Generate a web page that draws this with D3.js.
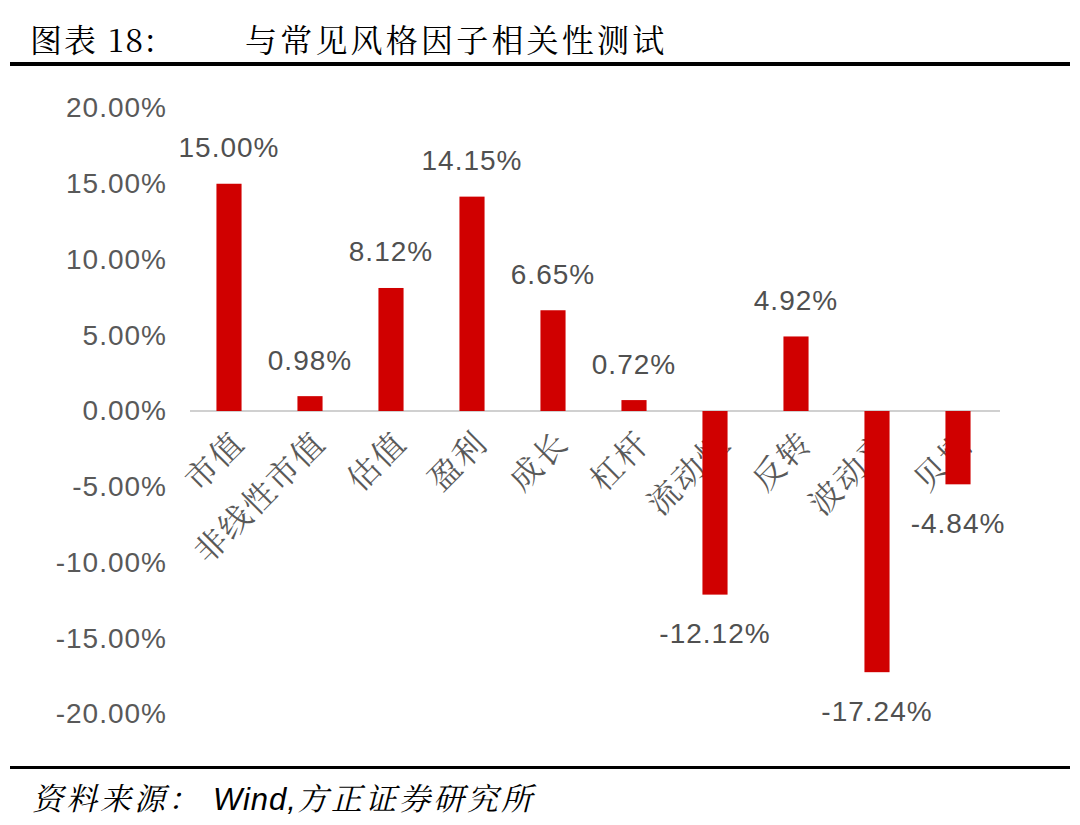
<!DOCTYPE html>
<html><head><meta charset="utf-8">
<script src="https://cdn.jsdelivr.net/npm/d3@7"></script>
<style>body{margin:0;background:#fff;}svg{display:block;}</style>
</head><body>
<svg id="c" width="1080" height="825"></svg>
<script>
const categories = ["市值","非线性市值","估值","盈利","成长","杠杆","流动性","反转","波动率","贝塔"];
const values = [15.00, 0.98, 8.12, 14.15, 6.65, 0.72, -12.12, 4.92, -17.24, -4.84];
const yTicks = [20, 15, 10, 5, 0, -5, -10, -15, -20];

const svg = d3.select("#c");
const serif = "'Noto Serif CJK SC','Songti SC',SimSun,'Noto Sans CJK SC',serif";
const sans = "'Liberation Sans',Arial,'Noto Sans CJK SC',sans-serif";

// title
svg.append("text").attr("x",30).attr("y",52).attr("font-family",serif).attr("font-size",32).attr("letter-spacing",2).attr("fill","#000").text("图表 18:");
svg.append("text").attr("x",245).attr("y",52).attr("font-family",serif).attr("font-size",32).attr("letter-spacing",3.2).attr("fill","#000").text("与常见风格因子相关性测试");
svg.append("rect").attr("x",10).attr("y",62).attr("width",1060).attr("height",4).attr("fill","#000");

const x = d3.scaleBand().domain(categories).range([188.5, 998.5]).paddingInner(0.69).paddingOuter(0.345);
const y = d3.scaleLinear().domain([-20, 20]).range([714, 108]);

// y axis labels
const yAxis = d3.axisLeft(y).tickValues(yTicks).tickSize(0).tickPadding(0).tickFormat(d => d.toFixed(2) + "%");
const ga = svg.append("g").attr("transform","translate(167,0)").call(yAxis);
ga.select(".domain").remove();
ga.selectAll("text").attr("font-family",sans).attr("font-size",28).attr("letter-spacing",1).attr("fill","#595959");

// zero line
svg.append("line").attr("x1",190).attr("x2",1000).attr("y1",y(0)).attr("y2",y(0)).attr("stroke","#d0d0d0").attr("stroke-width",2);

// category labels (rotated) - drawn beneath bars
svg.selectAll("text.cat").data(categories).enter().append("text").attr("class","cat")
  .attr("transform",d=>`translate(${x(d)+x.bandwidth()/2+8},${y(0)+24}) rotate(-45)`)
  .attr("text-anchor","end").attr("font-family",serif).attr("font-size",32).attr("letter-spacing",2)
  .attr("fill","#595959")
  .attr("dominant-baseline","central")
  .text(d=>d);

// bars
svg.selectAll("rect.bar").data(values).enter().append("rect").attr("class","bar")
  .attr("x",(d,i)=>x(categories[i])).attr("width",x.bandwidth())
  .attr("y",d=>y(Math.max(0,d))).attr("height",d=>Math.abs(y(d)-y(0)))
  .attr("fill","#d00000");

// value labels
svg.selectAll("text.val").data(values).enter().append("text").attr("class","val")
  .attr("x",(d,i)=>x(categories[i])+x.bandwidth()/2)
  .attr("y",d=> d>=0 ? y(d)-36 : y(d)+39)
  .attr("text-anchor","middle").attr("dominant-baseline","central")
  .attr("font-family",sans).attr("font-size",28).attr("letter-spacing",1).attr("fill","#505050")
  .text(d=>d.toFixed(2)+"%");

// footer
svg.append("rect").attr("x",10).attr("y",766).attr("width",1060).attr("height",3).attr("fill","#000");
const ft = svg.append("text").attr("x",32).attr("y",810).attr("font-style","italic").attr("fill","#000").attr("font-size",31);
ft.append("tspan").attr("font-family",serif).attr("letter-spacing",3).text("资料来源： ");
ft.append("tspan").attr("font-family",sans).attr("letter-spacing",1).text("Wind,");
ft.append("tspan").attr("font-family",serif).attr("letter-spacing",3).text("方正证券研究所");
</script>
</body></html>
